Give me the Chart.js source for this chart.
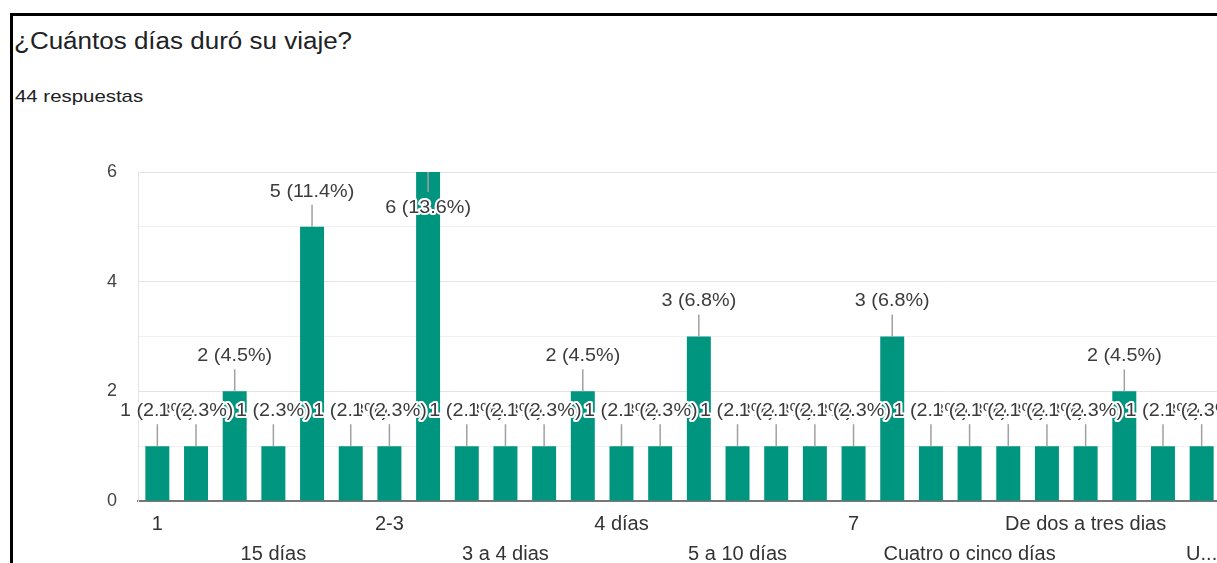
<!DOCTYPE html>
<html>
<head>
<meta charset="utf-8">
<script src="https://cdn.jsdelivr.net/npm/chart.js@4.4.1/dist/chart.umd.min.js"></script>
<style>
  html, body { margin: 0; padding: 0; background: #fff; overflow: hidden; }
  body { width: 1217px; height: 563px; position: relative; font-family: "Liberation Sans", Arial, sans-serif; }
  #frame { position: absolute; left: 10px; top: 13px; width: 1240px; height: 600px;
           border-top: 3px solid #000; border-left: 3px solid #000; }
  #title { position: absolute; left: 14px; top: 28px; font-size: 23px; color: #202124; white-space: nowrap;
           transform: scaleX(1.13); transform-origin: left top; }
  #sub { position: absolute; left: 15px; top: 87px; font-size: 17px; color: #202124; white-space: nowrap;
         transform: scaleX(1.2); transform-origin: left top; }
  #wrap { position: absolute; left: 0; top: 0; width: 1221px; height: 563px; }
</style>
</head>
<body>
<div id="frame"></div>
<div id="title">¿Cuántos días duró su viaje?</div>
<div id="sub">44 respuestas</div>
<div id="wrap"><canvas id="myBars"></canvas></div>
<script>
  // categories as they appear on the x axis (every third one is labelled)
  var categorias = [
    "1", "10", "10 días", "15 días", "2", "2 días", "2-3", "3", "3 días",
    "3 a 4 dias", "3 o 4 días", "4", "4 días", "5", "5 días", "5 a 10 días",
    "6", "6 días", "7", "7 días", "8 días", "Cuatro o cinco días", "Cuatro días",
    "De 3 a 5 días", "De dos a tres dias", "Dos días", "Tres días", "Una semana"
  ];
  var respuestas = [1, 1, 2, 1, 5, 1, 1, 6, 1, 1, 1, 2, 1, 1, 3, 1, 1, 1, 1, 3, 1, 1, 1, 1, 1, 2, 1, 1];
  var yTicks = [0, 2, 4, 6];
  var total = 44;

  var FONT = '"Liberation Sans", Arial, sans-serif';
  var yAxisW = 138, chartW = 1221, viewW = 1217;

  // cut a label that would run past the window edge, like the form does
  function fitLabel(ctx, txt, idx) {
    var step = (chartW - yAxisW) / categorias.length;
    var cx = yAxisW + (idx + 0.5) * step;
    var room = 2 * Math.min(viewW - cx, step * 3) + 8;
    ctx.save();
    ctx.font = '20px ' + FONT;
    if (ctx.measureText(txt).width > room) {
      var s = txt;
      while (s.length > 1 && ctx.measureText(s + '...').width > room) s = s.slice(0, -1);
      txt = s + '...';
    }
    ctx.restore();
    return txt;
  }

  var barLabels = {
    id: 'barLabels',
    afterDatasetsDraw: function(chart) {
      var ctx = chart.ctx;
      var meta = chart.getDatasetMeta(0);
      var maxV = Math.max.apply(null, respuestas);
      var items = [];
      meta.data.forEach(function(bar, i) {
        var v = respuestas[i];
        var txt = v + ' (' + (v / total * 100).toFixed(1) + '%)';
        if (v === maxV) items.push({ x: bar.x, y0: bar.y, y1: bar.y + 20, ty: bar.y + 36, t: txt });
        else items.push({ x: bar.x, y0: bar.y, y1: bar.y - 22, ty: bar.y - 35, t: txt });
      });
      ctx.save();
      ctx.strokeStyle = '#a0a0a0';
      ctx.lineWidth = 1.5;
      items.forEach(function(it) {
        ctx.beginPath();
        ctx.moveTo(it.x, it.y0);
        ctx.lineTo(it.x, it.y1);
        ctx.stroke();
      });
      ctx.font = '18px ' + FONT;
      ctx.textAlign = 'center';
      ctx.textBaseline = 'middle';
      ctx.lineJoin = 'round';
      items.forEach(function(it) {
        ctx.save();
        ctx.translate(it.x, it.ty);
        ctx.scale(1.1, 1);
        ctx.strokeStyle = '#fff';
        ctx.lineWidth = 4;
        ctx.strokeText(it.t, 0, 0);
        ctx.fillStyle = '#3c3c3c';
        ctx.fillText(it.t, 0, 0);
        ctx.restore();
      });
      ctx.restore();
    }
  };

  var ctx = document.getElementById('myBars').getContext('2d');
  var myBarChart = new Chart(ctx, {
    type: 'bar',
    data: {
      labels: categorias,
      datasets: [{
        data: respuestas,
        backgroundColor: '#00957f',
        barPercentage: 0.62,
        categoryPercentage: 1
      }]
    },
    options: {
      responsive: true,
      maintainAspectRatio: false,
      animation: false,
      layout: { padding: { top: 172, left: 0, right: 0, bottom: 0 } },
      plugins: { legend: { display: false }, tooltip: { enabled: false } },
      scales: {
        x: {
          grid: { display: false },
          border: { display: true, color: '#777', width: 2 },
          afterFit: function(scale) { scale.height = 62; },
          ticks: {
            autoSkip: false,
            maxRotation: 0,
            padding: 0,
            color: '#333',
            font: { family: FONT, size: 20, lineHeight: 1.5 },
            callback: function(val, idx) {
              if (idx % 3 !== 0) return '';
              var txt = fitLabel(this.ctx, categorias[idx], idx);
              return (idx / 3) % 2 === 0 ? txt : ['', txt];
            }
          }
        },
        y: {
          min: 0,
          max: 6,
          afterFit: function(scale) { scale.width = yAxisW; },
          grid: {
            drawTicks: false,
            color: function(c) { return c.tick.value % 2 === 0 ? '#e3e3e3' : '#f0f0f0'; }
          },
          border: { display: true, color: '#e3e3e3' },
          ticks: {
            stepSize: 1,
            padding: 21,
            color: '#444',
            font: { family: FONT, size: 18 },
            callback: function(v) { return yTicks.indexOf(v) >= 0 ? v : ''; }
          }
        }
      }
    },
    plugins: [barLabels]
  });
</script>
</body>
</html>
